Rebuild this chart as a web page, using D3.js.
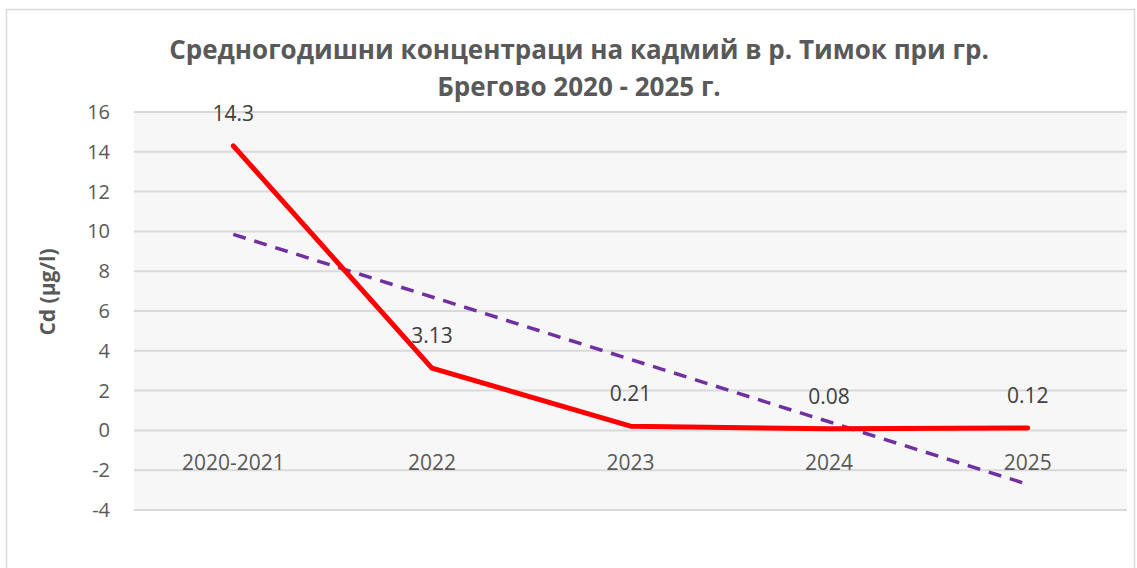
<!DOCTYPE html>
<html>
<head>
<meta charset="utf-8">
<script src="https://cdn.jsdelivr.net/npm/d3@7"></script>
<style>
  body { margin: 0; background: #fff; }
  svg { display: block; font-family: "Open Sans", sans-serif; }
</style>
</head>
<body>
<svg width="1137" height="568"></svg>
<script>
// chart data
var categories = ["2020-2021", "2022", "2023", "2024", "2025"];
var cdValues = [14.3, 3.13, 0.21, 0.08, 0.12];
var valueLabels = ["14.3", "3.13", "0.21", "0.08", "0.12"];
var trendEnds = [9.85, -2.71];   // linear trendline, first and last category
var yTicks = [-4, -2, 0, 2, 4, 6, 8, 10, 12, 14, 16];
var titleLines = ["Средногодишни концентраци на кадмий в р. Тимок при гр.", "Брегово 2020 - 2025 г."];
var yTitle = "Cd (µg/l)";

var svg = d3.select("svg"),
    margin = {top: 112, right: 10, bottom: 58, left: 134},
    width = 1127 - margin.left,
    height = 510 - margin.top;

// outer chart border
svg.append("rect")
    .attr("x", 6.5).attr("y", 9.5)
    .attr("width", 1128).attr("height", 600)
    .attr("fill", "#fff")
    .attr("stroke", "#d9d9d9")
    .attr("stroke-width", 1.5);

var g = svg.append("g").attr("transform", "translate(" + margin.left + "," + margin.top + ")");

var scaleX = d3.scaleBand().domain(categories).range([0, width]),
    scaleY = d3.scaleLinear().domain([-4, 16]).range([height, 0]);

function cx(i) { return scaleX(categories[i]) + scaleX.bandwidth() / 2; }

// plot area
g.append("rect")
    .attr("width", width).attr("height", height)
    .attr("fill", "#f7f7f7");

// gridlines
g.append("g").selectAll("line")
    .data(yTicks)
    .enter().append("line")
    .attr("x1", 0).attr("x2", width)
    .attr("y1", function (d) { return scaleY(d); })
    .attr("y2", function (d) { return scaleY(d); })
    .attr("stroke", "#d9d9d9")
    .attr("stroke-width", 2);

// y axis labels (plain hyphen for negatives, like Excel)
var axisY = g.append("g").call(d3.axisLeft(scaleY)
    .tickValues(yTicks)
    .tickFormat(function (d) { return String(d); })
    .tickSize(0).tickPadding(24));
axisY.select(".domain").remove();
axisY.selectAll("text")
    .style("font-family", "'Open Sans', sans-serif")
    .style("font-size", "20px")
    .attr("fill", "#595959");

// category labels sit next to the zero line
g.append("g").selectAll("text")
    .data(categories)
    .enter().append("text")
    .attr("x", function (d, i) { return cx(i); })
    .attr("y", scaleY(0) + 40)
    .attr("text-anchor", "middle")
    .style("font-size", "21px")
    .attr("fill", "#595959")
    .text(function (d) { return d; });

// trendline
g.append("line")
    .attr("x1", cx(0)).attr("y1", scaleY(trendEnds[0]))
    .attr("x2", cx(categories.length - 1)).attr("y2", scaleY(trendEnds[1]))
    .attr("stroke", "#7030a0")
    .attr("stroke-width", 3.5)
    .attr("stroke-dasharray", "13,9");

// data line
var line = d3.line()
    .x(function (d, i) { return cx(i); })
    .y(function (d) { return scaleY(d); });

g.append("path")
    .datum(cdValues)
    .attr("d", line)
    .attr("fill", "none")
    .attr("stroke", "#ff0000")
    .attr("stroke-width", 5)
    .attr("stroke-linecap", "round")
    .attr("stroke-linejoin", "round");

// data labels
g.append("g").selectAll("text")
    .data(cdValues)
    .enter().append("text")
    .attr("x", function (d, i) { return cx(i); })
    .attr("y", function (d) { return scaleY(d) - 25; })
    .attr("text-anchor", "middle")
    .style("font-size", "21px")
    .attr("fill", "#404040")
    .text(function (d, i) { return valueLabels[i]; });

// title
svg.append("g").selectAll("text")
    .data(titleLines)
    .enter().append("text")
    .attr("x", 579)
    .attr("y", function (d, i) { return 59 + i * 37; })
    .attr("text-anchor", "middle")
    .style("font-size", "26px")
    .style("font-weight", "bold")
    .attr("fill", "#595959")
    .text(function (d) { return d; });

// y axis title
svg.append("text")
    .attr("transform", "translate(55,292) rotate(-90)")
    .attr("text-anchor", "middle")
    .style("font-size", "21px")
    .style("font-weight", "bold")
    .attr("fill", "#595959")
    .text(yTitle);
</script>
</body>
</html>
